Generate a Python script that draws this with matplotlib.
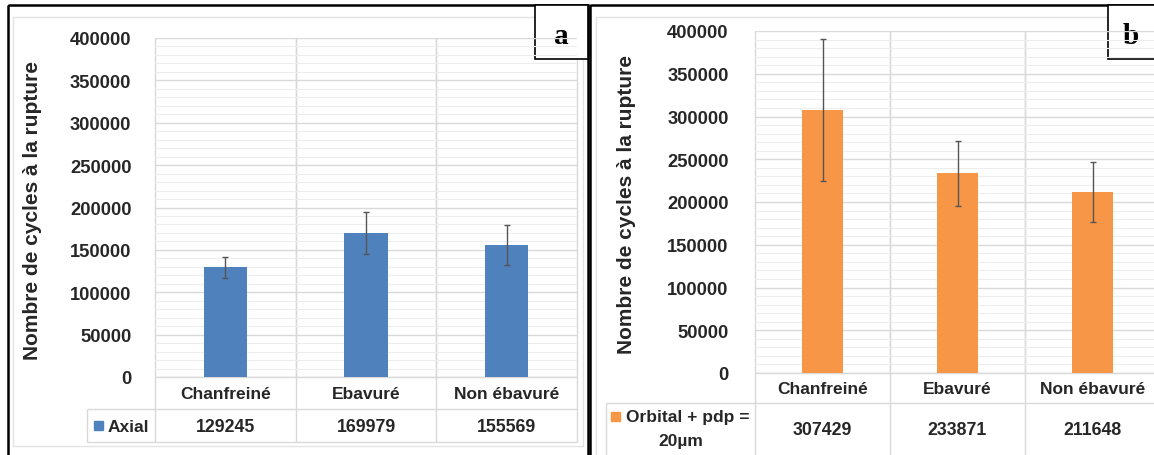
import matplotlib
matplotlib.use("Agg")
import matplotlib.pyplot as plt
from matplotlib.patches import Rectangle
from matplotlib.ticker import MultipleLocator, FuncFormatter

categories = ['Chanfreiné', 'Ebavuré', 'Non ébavuré']
axial_values = [129245, 169979, 155569]
axial_errors = [12000, 25000, 24000]
orbital_values = [307429, 233871, 211648]
orbital_errors = [83000, 38000, 35000]
series_a = 'Axial'
series_b = 'Orbital + pdp =\n20µm'
ylabel = 'Nombre de cycles à la rupture'
yticks = [0, 50000, 100000, 150000, 200000, 250000, 300000, 350000, 400000]

W, H = 1154, 456
BLUE = '#4f81bd'
ORANGE = '#f79646'
GRID = '#d9d9d9'
MINOR = '#ededed'
TXT = '#262626'
FONT = 'Liberation Sans'
FS_TICK = 13.2
FS_CAT = 12.5
FS_VAL = 12.8

fig = plt.figure(figsize=(W / 100, H / 100), dpi=100)
fig.patch.set_facecolor('white')

ov = fig.add_axes([0, 0, 1, 1], zorder=0)
ov.set_xlim(0, W)
ov.set_ylim(H, 0)
ov.axis('off')


def pax(x0, y0, x1, y1, z=1):
    return fig.add_axes([x0 / W, 1 - y1 / H, (x1 - x0) / W, (y1 - y0) / H], zorder=z)


def line(xs, ys, c=GRID, lw=1.0, z=2):
    ov.plot(xs, ys, color=c, lw=lw, zorder=z, solid_capstyle='butt')


def panel(ox0, ox1, ix0, ix1, iy1, px0, px1, py0, py1, tab_y1, tab_y2, leg_x0,
          values, errors, color, series, letter, tick_x, ylab_x, leg_text_x, box_x0):
    ov.add_patch(Rectangle((ox0, 6), ox1 - ox0, 470, fill=False, ec='black', lw=1.8, zorder=5))
    ov.add_patch(Rectangle((ix0, 18), ix1 - ix0, iy1 - 18, fill=False, ec='#e3e3e3', lw=1.0, zorder=1))
    ov.add_patch(Rectangle((box_x0, 6), ox1 - box_x0, 54, fc='white', ec='black', lw=1.2, zorder=6))
    ov.text((box_x0 + min(ox1, W)) / 2, 37, letter, family='Liberation Serif', weight='bold',
            fontsize=21, ha='center', va='center', zorder=7)

    ax = pax(px0, py0, px1, py1)
    ax.set_facecolor('none')
    x = list(range(len(categories)))
    ax.bar(x, values, width=0.31, color=color, zorder=3)
    ax.errorbar(x, values, yerr=errors, fmt='none', ecolor='#555555', elinewidth=1.0,
                capsize=2.5, capthick=1.0, zorder=4)
    ax.set_xlim(-0.5, len(categories) - 0.5)
    ax.set_ylim(0, 400000)
    ax.set_yticks(yticks)
    ax.yaxis.set_minor_locator(MultipleLocator(10000))
    ax.yaxis.set_major_formatter(FuncFormatter(lambda v, p: f'{int(v)}'))
    ax.grid(True, which='major', axis='y', color=GRID, lw=1.0, zorder=0)
    ax.grid(True, which='minor', axis='y', color=MINOR, lw=0.8, zorder=0)
    for b in [0.5, 1.5]:
        ax.axvline(b, color=GRID, lw=1.0, zorder=1)
    for s in ax.spines.values():
        s.set_visible(False)
    ax.set_xticks([])
    ax.tick_params(axis='y', which='both', length=0, pad=(px0 - tick_x))
    for lab in ax.get_yticklabels():
        lab.set_fontfamily(FONT)
        lab.set_fontweight('bold')
        lab.set_fontsize(FS_TICK)
        lab.set_color(TXT)

    ov.text(ylab_x, (py0 + py1) / 2 + 2, ylabel, rotation=90, family=FONT, weight='bold',
            fontsize=15, color=TXT, ha='center', va='center', zorder=3)

    cw = (px1 - px0) / len(categories)
    line([px0, px1], [py1, py1])
    line([leg_x0, px1], [tab_y1, tab_y1])
    line([leg_x0, px1], [tab_y2, tab_y2])
    line([leg_x0, leg_x0], [tab_y1, tab_y2])
    for i in range(len(categories) + 1):
        xx = px0 + i * cw
        line([xx, xx], [py0, tab_y2])
    for i, (c, v) in enumerate(zip(categories, values)):
        cx = px0 + (i + 0.5) * cw
        ov.text(cx, (py1 + tab_y1) / 2 + 1, c, family=FONT, weight='bold', fontsize=FS_CAT,
                color=TXT, ha='center', va='center', zorder=3)
        ov.text(cx, (tab_y1 + min(tab_y2, H)) / 2 + 1, f'{v}', family=FONT, weight='bold',
                fontsize=FS_VAL, color=TXT, ha='center', va='center', zorder=3)
    ly = (tab_y1 + min(tab_y2, H)) / 2
    if '\n' in series:
        first, second = series.split('\n')
        ov.add_patch(Rectangle((leg_x0 + 5, tab_y1 + 9), 9, 9, color=color, zorder=3))
        ov.text(leg_text_x, tab_y1 + 14, first, family=FONT, weight='bold', fontsize=FS_CAT,
                color=TXT, ha='left', va='center', zorder=3)
        ov.text((leg_x0 + px0) / 2, tab_y1 + 38, second, family=FONT, weight='bold',
                fontsize=FS_CAT, color=TXT, ha='center', va='center', zorder=3)
    else:
        ov.add_patch(Rectangle((leg_x0 + 7, ly - 4), 9, 9, color=color, zorder=3))
        ov.text(leg_text_x, ly + 1, series, family=FONT, weight='bold', fontsize=FS_CAT,
                color=TXT, ha='left', va='center', zorder=3)


panel(ox0=8, ox1=588, ix0=13, ix1=583, iy1=447,
      px0=155, px1=577, py0=39, py1=378, tab_y1=410, tab_y2=443, leg_x0=87,
      values=axial_values, errors=axial_errors, color=BLUE, series=series_a,
      letter='a', tick_x=138, ylab_x=33, leg_text_x=108, box_x0=535)

panel(ox0=590, ox1=1160, ix0=596, ix1=1170, iy1=470,
      px0=755, px1=1160, py0=32, py1=374, tab_y1=404, tab_y2=470, leg_x0=606,
      values=orbital_values, errors=orbital_errors, color=ORANGE, series=series_b,
      letter='b', tick_x=736, ylab_x=627, leg_text_x=626, box_x0=1108)

fig.savefig('out.png', dpi=100, facecolor='white')
